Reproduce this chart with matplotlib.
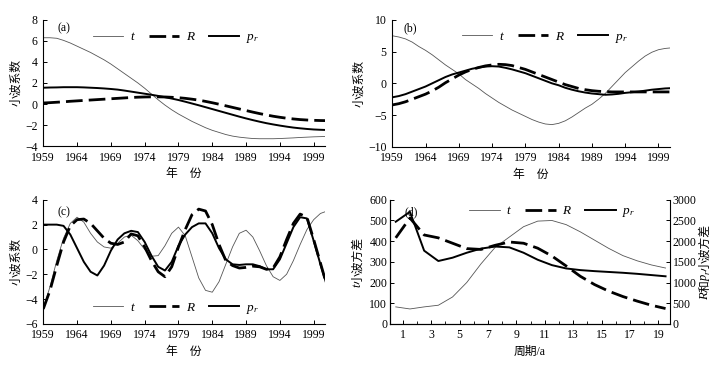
import numpy as np
import matplotlib
matplotlib.use("Agg")
import matplotlib.pyplot as plt
from matplotlib import transforms
from matplotlib.ticker import MultipleLocator

plt.rcParams['font.family'] = ['Liberation Serif', 'Noto Sans CJK SC', 'DejaVu Sans']
plt.rcParams['axes.unicode_minus'] = True
plt.rcParams['mathtext.fontset'] = 'custom'
plt.rcParams['mathtext.it'] = 'Liberation Serif:italic'
plt.rcParams['mathtext.rm'] = 'Liberation Serif'

years = np.arange(1959, 2002)

# (a)
t_a = [6.3, 6.3, 6.25, 6.05, 5.8, 5.5, 5.2, 4.9, 4.55, 4.2, 3.8, 3.35, 2.9, 2.45, 2.0,
       1.5, 0.95, 0.4, -0.1, -0.55, -0.95, -1.3, -1.65, -1.95, -2.25, -2.5, -2.7, -2.9,
       -3.05, -3.15, -3.22, -3.28, -3.3, -3.3, -3.3, -3.28, -3.25, -3.22, -3.18, -3.15,
       -3.12, -3.1, -3.08]
R_a = [0.1, 0.13, 0.17, 0.21, 0.26, 0.3, 0.34, 0.38, 0.42, 0.46, 0.5, 0.54, 0.58, 0.62,
       0.65, 0.67, 0.68, 0.68, 0.67, 0.64, 0.6, 0.54, 0.46, 0.37, 0.25, 0.12, -0.02, -0.17,
       -0.32, -0.47, -0.62, -0.77, -0.91, -1.04, -1.16, -1.26, -1.35, -1.42, -1.48, -1.52,
       -1.55, -1.57, -1.58]
p_a = [1.55, 1.57, 1.58, 1.6, 1.6, 1.6, 1.58, 1.55, 1.52, 1.48, 1.43, 1.37, 1.28, 1.18,
       1.08, 0.98, 0.88, 0.77, 0.65, 0.52, 0.38, 0.22, 0.05, -0.12, -0.3, -0.48, -0.66,
       -0.84, -1.02, -1.2, -1.37, -1.53, -1.68, -1.82, -1.94, -2.05, -2.15, -2.24, -2.31,
       -2.37, -2.42, -2.45, -2.47]

# (b)
t_b = [7.5, 7.3, 7.0, 6.5, 5.8, 5.2, 4.5, 3.7, 2.9, 2.2, 1.5, 0.6, -0.1, -0.8, -1.6,
       -2.3, -3.0, -3.6, -4.2, -4.7, -5.2, -5.7, -6.1, -6.4, -6.5, -6.3, -5.9, -5.3, -4.6,
       -3.9, -3.3, -2.5, -1.6, -0.5, 0.6, 1.7, 2.6, 3.5, 4.3, 4.9, 5.3, 5.5, 5.6]
R_b = [-3.4, -3.2, -2.9, -2.5, -2.1, -1.7, -1.2, -0.6, 0.1, 0.7, 1.3, 1.8, 2.2, 2.5,
       2.75, 2.9, 3.0, 2.95, 2.8, 2.5, 2.2, 1.8, 1.4, 1.0, 0.6, 0.2, -0.2, -0.5, -0.8,
       -1.0, -1.15, -1.25, -1.3, -1.35, -1.35, -1.35, -1.35, -1.35, -1.35, -1.35, -1.35,
       -1.35, -1.35]
p_b = [-2.2, -2.0, -1.7, -1.3, -0.9, -0.5, 0.0, 0.5, 1.0, 1.4, 1.7, 2.0, 2.3, 2.5, 2.65,
       2.7, 2.65, 2.45, 2.2, 1.9, 1.6, 1.2, 0.8, 0.4, 0.0, -0.3, -0.7, -1.0, -1.25, -1.45,
       -1.6, -1.7, -1.8, -1.75, -1.65, -1.5, -1.4, -1.3, -1.15, -1.0, -0.9, -0.8, -0.75]

# (c)
t_c = [-4.8, -3.0, -0.9, 0.9, 2.1, 2.6, 2.2, 1.3, 0.6, 0.2, 0.1, 0.5, 1.0, 1.15, 0.7,
       0.0, -0.55, -0.5, 0.3, 1.3, 1.8, 1.1, -0.6, -2.3, -3.3, -3.45, -2.6, -1.2, 0.2, 1.3,
       1.55, 1.0, -0.1, -1.3, -2.2, -2.5, -2.0, -0.9, 0.4, 1.6, 2.4, 2.9, 3.1]
R_c = [-4.8, -3.3, -1.3, 0.6, 1.9, 2.4, 2.45, 2.1, 1.5, 0.9, 0.5, 0.4, 0.6, 1.25, 1.1,
       0.2, -0.9, -1.8, -2.2, -1.4, 0.2, 1.6, 2.8, 3.25, 3.1, 2.0, 0.4, -0.9, -1.3, -1.5,
       -1.45, -1.35, -1.4, -1.6, -1.5, -0.6, 0.8, 2.1, 2.85, 2.6, 0.8, -1.1, -3.0]
p_c = [2.0, 2.0, 2.0, 1.9, 1.2, 0.1, -1.0, -1.8, -2.1, -1.3, -0.1, 0.8, 1.3, 1.5, 1.4,
       0.6, -0.5, -1.4, -1.7, -1.0, 0.3, 1.2, 1.8, 2.1, 2.1, 1.3, 0.1, -0.8, -1.2, -1.25,
       -1.2, -1.2, -1.35, -1.6, -1.6, -0.8, 0.5, 1.8, 2.6, 2.5, 0.7, -1.2, -3.0]

# (d)
period = np.arange(0.5, 20.0, 1.0)
t_d = [82, 72, 82, 90, 130, 200, 290, 370, 420, 470, 497, 500, 480, 445, 405, 365,
       330, 305, 285, 270]
R_d = [2080, 2560, 2150, 2080, 1950, 1820, 1800, 1900, 1980, 1950, 1830, 1640, 1400,
       1150, 950, 790, 660, 550, 450, 370]
p_d = [2470, 2710, 1770, 1520, 1600, 1720, 1820, 1870, 1850, 1720, 1550, 1420, 1340,
       1300, 1275, 1255, 1235, 1210, 1180, 1150]

FS = 8.5
t_kw = dict(color='#555555', lw=0.6)
R_kw = dict(color='black', lw=2.0, dashes=(6, 2.2))
p_kw = dict(color='black', lw=1.4)
labels = [r'$t$', r'$R$', r'$p_r$']


def style(ax):
    ax.spines['top'].set_visible(False)
    ax.spines['right'].set_visible(False)
    for s in ax.spines.values():
        s.set_linewidth(0.8)
    ax.tick_params(direction='in', length=3, width=0.7, labelsize=FS, pad=4)


def year_axis(ax):
    ax.set_xlim(1959, 2000.7)
    ax.set_xticks(np.arange(1959, 2000, 5))
    ax.set_xlabel('年    份', fontsize=8.5, labelpad=3)
    ax.set_ylabel('小波系数', fontsize=8.5, labelpad=2)


def legend(ax, x, y, lines):
    ax.legend(lines, labels, loc='center', bbox_to_anchor=(x, y),
              ncol=3, frameon=False, fontsize=FS + 1, handlelength=2.3,
              handletextpad=0.5, columnspacing=1.0, borderaxespad=0)


def stacked_ylabel(ax, x, pieces):
    # rotated label built from pieces (text, italic, size, dx), bottom to top
    fig = ax.figure
    r = fig.canvas.get_renderer()
    texts = []
    for s, it, size, dx in pieces:
        fam = 'Liberation Serif' if it else 'Noto Sans CJK SC'
        t = ax.text(x, 0.5, s, rotation=90, ha='center', va='bottom',
                    transform=ax.transAxes, fontsize=size, family=fam,
                    style='italic' if it else 'normal')
        texts.append((t, t.get_window_extent(r).height, dx))
    y = -sum(h for _, h, _ in texts) / 2
    for t, h, dx in texts:
        t.set_transform(transforms.offset_copy(ax.transAxes, fig=fig, x=dx, y=y,
                                               units='dots'))
        y += h


fig = plt.figure(figsize=(7.21, 3.68), dpi=100)

# (a)
ax = fig.add_axes([0.060, 0.603, 0.391, 0.343])
l1, = ax.plot(years, t_a, **t_kw)
l2, = ax.plot(years, R_a, **R_kw)
l3, = ax.plot(years, p_a, **p_kw)
style(ax)
year_axis(ax)
ax.set_ylim(-4, 8)
ax.set_yticks(np.arange(-4, 9, 2))
ax.text(0.05, 0.93, '(a)', transform=ax.transAxes, fontsize=FS, va='center')
legend(ax, 0.47, 0.855, [l1, l2, l3])

# (b)
ax = fig.add_axes([0.544, 0.601, 0.385, 0.345])
l1, = ax.plot(years, t_b, **t_kw)
l2, = ax.plot(years, R_b, **R_kw)
l3, = ax.plot(years, p_b, **p_kw)
style(ax)
year_axis(ax)
ax.set_ylim(-10, 10)
ax.set_yticks([-10, -5, 0, 5, 10])
ax.text(0.04, 0.93, '(b)', transform=ax.transAxes, fontsize=FS, va='center')
legend(ax, 0.55, 0.86, [l1, l2, l3])

# (c)
ax = fig.add_axes([0.060, 0.120, 0.391, 0.337])
l1, = ax.plot(years, t_c, **t_kw)
l2, = ax.plot(years, R_c, **R_kw)
l3, = ax.plot(years, p_c, **p_kw)
style(ax)
year_axis(ax)
ax.set_ylim(-6, 4)
ax.set_yticks(np.arange(-6, 5, 2))
ax.text(0.05, 0.9, '(c)', transform=ax.transAxes, fontsize=FS, va='center')
legend(ax, 0.47, 0.12, [l1, l2, l3])

# (d)
ax = fig.add_axes([0.541, 0.120, 0.388, 0.337])
ax2 = ax.twinx()
l1, = ax.plot(period, t_d, **t_kw)
l2, = ax2.plot(period, R_d, **R_kw)
l3, = ax2.plot(period, p_d, **p_kw)
style(ax)
ax.tick_params(axis='y', pad=2)
ax2.spines['top'].set_visible(False)
for s in ax2.spines.values():
    s.set_linewidth(0.8)
ax2.tick_params(direction='in', length=3, width=0.7, labelsize=FS, pad=2)
ax.set_xlim(0.1, 19.8)
ax.set_xticks(np.arange(1, 20, 2))
ax.xaxis.set_minor_locator(MultipleLocator(1))
ax.tick_params(which='minor', direction='in', length=2, width=0.6)
ax.set_ylim(0, 600)
ax.set_yticks(np.arange(0, 601, 100))
ax2.set_ylim(0, 3000)
ax2.set_yticks(np.arange(0, 3001, 500))
ax.set_xlabel('周期/a', fontsize=8.5, labelpad=3)
stacked_ylabel(ax, -0.115, [('t', True, 9, 0), ('小波方差', False, 8.5, 0)])
stacked_ylabel(ax2, 1.125, [('R', True, 9, 0), ('和', False, 8.5, 0),
                            ('p', True, 9, 0), ('r', True, 6.5, 3),
                            ('小波方差', False, 8.5, 0)])
ax.text(0.05, 0.9, '(d)', transform=ax.transAxes, fontsize=FS, va='center')
legend(ax, 0.58, 0.9, [l1, l2, l3])

fig.savefig('out.png', dpi=100)
